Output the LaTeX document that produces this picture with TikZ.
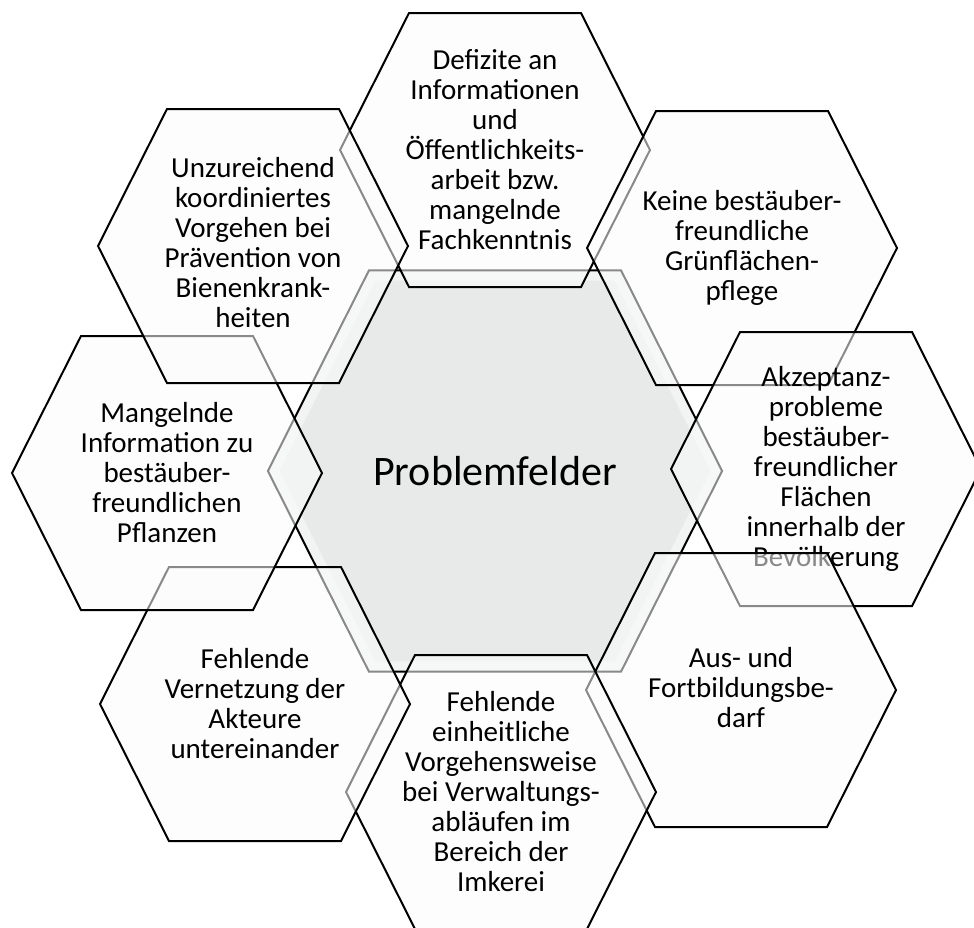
\documentclass[tikz,border=0pt]{standalone}
\usepackage{fontspec}
\setmainfont{Carlito}
\usepackage{tikz}

\definecolor{coregray}{RGB}{232,234,234}
\definecolor{corerim}{RGB}{242,243,243}
\definecolor{cellwhite}{RGB}{251,251,251}

\begin{document}
\begin{tikzpicture}[x=0.5pt, y=-0.5pt,
    hexa/.pic={\path[pic actions] (-155,0) -- (-86,-137) -- (86,-137) -- (155,0) -- (86,137) -- (-86,137) -- cycle;},
    core/.style={draw=black, line width=1pt, fill=corerim},
    coreinner/.style={fill=coregray},
    cell/.style={draw=black, line width=1pt, fill=cellwhite, fill opacity=0.55},
    txt/.style={align=center, font=\fontsize{14.5}{15}\selectfont},
    bigtxt/.style={font=\fontsize{21}{25}\selectfont}]
    \useasboundingbox (0,0) rectangle (974,927);

    % middle field
    \pic[core, scale=1.465] at (495,471) {hexa};
    \pic[coreinner, scale=1.39] at (495,471) {hexa};
    \node[bigtxt] (core) at (495,471) {Problemfelder};

    % ring, clockwise from the top
    \pic[cell] at (495,150) {hexa};
    \node[txt] (info) at (495,150) {Defizite an\\Informationen\\und\\Öffentlichkeits-\\arbeit bzw.\\mangelnde\\Fachkenntnis};

    \pic[cell] at (742,248) {hexa};
    \node[txt] (gruen) at (742,248) {Keine bestäuber-\\freundliche\\Grünflächen-\\pflege};

    \pic[cell] at (826,469) {hexa};
    \node[txt] (akzept) at (826,469) {Akzeptanz-\\probleme\\bestäuber-\\freundlicher\\Flächen\\innerhalb der\\Bevölkerung};

    \pic[cell] at (741,690) {hexa};
    \node[txt] (bildung) at (741,688) {Aus- und\\Fortbildungsbe-\\darf};

    \pic[cell] at (501,792) {hexa};
    \node[txt] (verwalt) at (501,792) {Fehlende\\einheitliche\\Vorgehensweise\\bei Verwaltungs-\\abläufen im\\Bereich der\\Imkerei};

    \pic[cell] at (255,704) {hexa};
    \node[txt] (netz) at (255,704) {Fehlende\\Vernetzung der\\Akteure\\untereinander};

    \pic[cell] at (167,473) {hexa};
    \node[txt] (pflanz) at (167,473) {Mangelnde\\Information zu\\bestäuber-\\freundlichen\\Pflanzen};

    \pic[cell] at (253,246) {hexa};
    \node[txt] (krank) at (253,243) {Unzureichend\\koordiniertes\\Vorgehen bei\\Prävention von\\Bienenkrank-\\heiten};
\end{tikzpicture}
\end{document}
